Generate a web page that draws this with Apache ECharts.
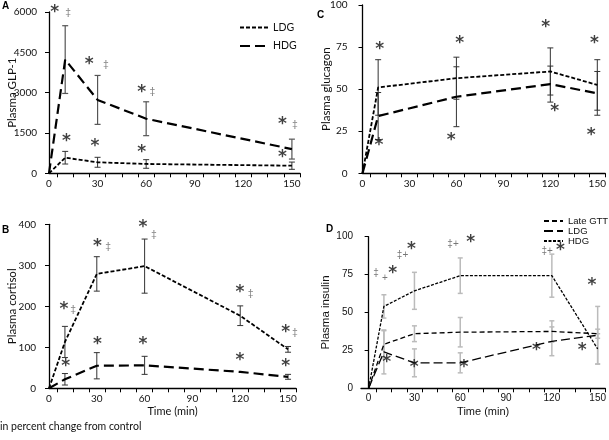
<!DOCTYPE html>
<html><head><meta charset="utf-8">
<script src="https://cdn.jsdelivr.net/npm/echarts@6/dist/echarts.min.js"></script>
<style>html,body{margin:0;padding:0;background:#fff}#c{width:609px;height:440px}</style>
</head><body><div id="c"></div>
<script>
// ---------- Panel A: Plasma GLP-1 ----------
const timeA = [0, 10, 30, 60, 150];
const glpLDG = [0, 580, 410, 347, 283];
const glpLDGerr = [0, 235, 185, 160, 135];
const glpHDG = [0, 4230, 2730, 2030, 900];
const glpHDGerr = [0, 1260, 910, 630, 370];
const annA = [[3.5,5986,'*'],[11.8,6023,'‡'],[24.8,4036,'*'],[35.2,4074,'‡'],[57.3,3004,'*'],[63.9,3067,'‡'],
  [144.2,1800,'*'],[151.8,1837,'‡'],[10.8,1178,'*'],[28.4,991,'*'],[57.3,783,'*'],[144.2,596,'*']];

// ---------- Panel B: Plasma cortisol ----------
const timeB = [0, 10, 30, 60, 120, 150];
const cortLDG = [0, 113, 279, 298, 177, 95];
const cortLDGerr = [0, 38, 42, 66, 24, 7];
const cortHDG = [0, 22, 55, 56, 40, 28];
const cortHDGerr = [0, 14, 32, 22, 0, 6];
const annB = [[9.4,193,'*'],[15.1,193,'‡'],[30.4,345,'*'],[37.1,347,'‡'],[59,393,'*'],[65.8,378,'‡'],
  [119.8,233,'*'],[126.5,234,'‡'],[148.5,136,'*'],[154.3,137,'‡'],
  [10.5,54,'*'],[30.4,107,'*'],[59,107,'*'],[119.8,66.6,'*'],[148.5,52.7,'*']];

// ---------- Panel C: Plasma glucagon ----------
const timeC = [0, 10, 60, 120, 150];
const glucLDG = [0, 51, 56.5, 60.5, 52.5];
const glucLDGerr = [0, 16.5, 12.5, 14, 15];
const glucHDG = [0, 34, 45.5, 53, 47.5];
const glucHDGerr = [0, 14, 17.8, 10.7, 13];
const annC = [[11,73.5,'*'],[10.5,16.3,'*'],[62.1,76.8,'*'],[56.6,19.7,'*'],[117.1,86.3,'*'],[122.8,36.4,'*'],
  [148.2,76.8,'*'],[146.1,22.6,'*']];

// ---------- Panel D: Plasma insulin ----------
const timeD = [0, 10, 30, 60, 120, 150];
const insLate = [0, 29, 36, 37, 37.5, 36];
const insLateErr = [0, 9, 5.2, 9.7, 7, 3];
const insLDG = [0, 24, 16.8, 16.8, 31, 35];
const insLDGerr = [0, 14.5, 9.2, 6.6, 9.5, 19];
const insHDG = [0, 54, 64.3, 74.3, 74.3, 26];
const insHDGerr = [0, 7.7, 12.2, 11.7, 14.2, 10];
const annD = [[4.8,75.9,'‡'],[10.6,72.6,'+'],[15.7,75.9,'*'],[22.2,87.5,'‡+'],[28.1,91.7,'*'],[55.3,95,'‡+'],
  [66.8,96.3,'*'],[116.9,90.6,'‡+'],[125.6,90.6,'*'],[146.3,67.5,'*'],
  [11.9,16.9,'*'],[29.8,13.6,'*'],[62.4,13.6,'*'],[109.9,24.6,'*'],[139.8,24.6,'*']];

const xLabels = [0, 30, 60, 90, 120, 150];
const xTicks = [5, 15, 25, 35, 45, 55, 65, 75, 85, 95, 105, 115, 125, 135, 145, 155];

const FA = 'Lato', FD = 'Liberation Sans';

function pts(t, v){ return t.map((x,i)=>[x, v[i]]); }
function errData(t, v, e){ return t.map((x,i)=>[x, v[i]-e[i], v[i]+e[i]]).filter(d=>d[2]>d[1]); }
function errRender(capW, color, lw){
  return function(params, api){
    const x = api.value(0), lo = api.value(1), hi = api.value(2);
    const p1 = api.coord([x, hi]), p2 = api.coord([x, lo]);
    const st = {stroke: color, lineWidth: lw};
    return {type:'group', children:[
      {type:'line', shape:{x1:p1[0], y1:p1[1], x2:p2[0], y2:p2[1]}, style:st},
      {type:'line', shape:{x1:p1[0]-capW, y1:p1[1], x2:p1[0]+capW, y2:p1[1]}, style:st},
      {type:'line', shape:{x1:p2[0]-capW, y1:p2[1], x2:p2[0]+capW, y2:p2[1]}, style:st}
    ]};
  };
}
function errSeries(idx, t, v, e, capW, color, lw){
  return {type:'custom', xAxisIndex:idx, yAxisIndex:idx, silent:true, z:1,
    data: errData(t, v, e), encode:{x:0, y:[1,2]}, renderItem: errRender(capW, color, lw)};
}
function lineSeries(idx, name, t, v, dash, w){
  return {type:'line', name, xAxisIndex:idx, yAxisIndex:idx, data: pts(t, v),
    symbol:'circle', showSymbol:false, z:3,
    lineStyle:{color:'#000', width:w, type:dash}, itemStyle:{color:'rgba(0,0,0,0)'}};
}
function annSeries(idx, arr, font){
  return {type:'scatter', xAxisIndex:idx, yAxisIndex:idx, silent:true, z:4, symbolSize:1, clip:false,
    itemStyle:{color:'rgba(0,0,0,0)'}, data: arr,
    label:{show:true, position:'inside', formatter: p => p.data[2],
      color:'#111', fontFamily:font, fontSize:10},
    labelLayout:{hideOverlap:false}};
}
function annStyled(idx, arr, font){
  const stars = arr.filter(a=>a[2]==='*');
  const others = arr.filter(a=>a[2]!=='*');
  const s1 = annSeries(idx, stars, 'DejaVu Sans');
  s1.label.fontSize = 17; s1.label.fontWeight = 'bold'; s1.label.offset = [0, 3.5];
  const s2 = annSeries(idx, others, font);
  s2.label.fontSize = 10; s2.label.color = '#555';
  return [s1, s2];
}

function xAxis(idx, min, font, name){
  return {type:'value', gridIndex:idx, min, max:155,
    name: name || '', nameLocation:'middle', nameGap:18, nameMoveOverlap:false,
    nameTextStyle:{fontFamily:font, fontSize:11, color:'#111'},
    axisLine:{onZero:false, lineStyle:{color:'#000', width:1.3}},
    axisTick:{show:true, customValues:xTicks, length:4, lineStyle:{color:'#000'}},
    axisLabel:{customValues:xLabels, fontFamily:font, fontSize:10, color:'#111', margin:5},
    splitLine:{show:false}};
}
function yAxis(idx, max, interval, font, name, margin, gap){
  return {type:'value', gridIndex:idx, min:0, max, interval,
    name, nameLocation:'middle', nameGap:gap, nameMoveOverlap:false,
    nameTextStyle:{fontFamily:font, fontSize:11.5, color:'#111'},
    axisLine:{show:true, lineStyle:{color:'#000', width:1.3}},
    axisTick:{show:true, length:4, lineStyle:{color:'#000'}},
    axisLabel:{fontFamily:font, fontSize:10, color:'#111', margin, formatter: v => String(v)},
    splitLine:{show:false}};
}

const option = {
  animation:false,
  backgroundColor:'#fff',
  grid:[
    {left:49, top:12, width:251, height:161.3},
    {left:49, top:224.3, width:247, height:164},
    {left:362.5, top:4.1, width:246, height:169.2},
    {left:361, top:236.7, width:245, height:151.6}
  ],
  xAxis:[
    xAxis(0, 0, FA),
    xAxis(1, 0, FA, 'Time (min)'),
    xAxis(2, 0, FA),
    xAxis(3, -5, FD, 'Time (min)')
  ],
  yAxis:[
    yAxis(0, 6000, 1500, FA, 'Plasma GLP-1', 12, 31),
    yAxis(1, 400, 100, FA, 'Plasma cortisol', 13, 31),
    yAxis(2, 100, 25, FA, 'Plasma glucagon', 15, 30),
    yAxis(3, 100, 25, FD, 'Plasma insulin', 8, 29)
  ],
  legend:[
    {data:['A-LDG','A-HDG'], orient:'vertical', left:234, top:17, itemWidth:28, itemHeight:10, itemGap:7.4,
      itemStyle:{opacity:0}, formatter: n => n.slice(2),
      textStyle:{fontFamily:FA, fontSize:10.5, color:'#111'}, selectedMode:false},
    {data:['D-Late GTT','D-LDG','D-HDG'], orient:'vertical', left:538, top:211, itemWidth:19, itemHeight:8, itemGap:0,
      itemStyle:{opacity:0}, formatter: n => n.slice(2),
      textStyle:{fontFamily:FD, fontSize:9.5, color:'#111'}, selectedMode:false}
  ],
  graphic:[
    {type:'text', left:2, top:1, style:{text:'A', font:'bold 10px "Liberation Sans"', fill:'#000'}},
    {type:'text', left:2, top:225, style:{text:'B', font:'bold 10px "Liberation Sans"', fill:'#000'}},
    {type:'text', left:317, top:10, style:{text:'C', font:'bold 10px "Liberation Sans"', fill:'#000'}},
    {type:'text', left:326, top:224, style:{text:'D', font:'bold 10px "Liberation Sans"', fill:'#000'}},
    {type:'text', left:0, top:421, style:{text:'in percent change from control', font:'10.5px Lato', fill:'#111'}}
  ],
  series:[
    errSeries(0, timeA, glpLDG, glpLDGerr, 3, '#333', 1),
    errSeries(0, timeA, glpHDG, glpHDGerr, 3, '#555', 1.2),
    lineSeries(0, 'A-LDG', timeA, glpLDG, [4,2], 1.8),
    lineSeries(0, 'A-HDG', timeA, glpHDG, [10,5], 2.2),
    ...annStyled(0, annA, FA),
    errSeries(1, timeB, cortLDG, cortLDGerr, 3, '#333', 1),
    errSeries(1, timeB, cortHDG, cortHDGerr, 3, '#333', 1),
    lineSeries(1, 'B-LDG', timeB, cortLDG, [4,2], 1.8),
    lineSeries(1, 'B-HDG', timeB, cortHDG, [10,5], 2.2),
    ...annStyled(1, annB, FA),
    errSeries(2, timeC, glucLDG, glucLDGerr, 3, '#333', 1),
    errSeries(2, timeC, glucHDG, glucHDGerr, 3, '#333', 1),
    lineSeries(2, 'C-LDG', timeC, glucLDG, [4,2], 1.8),
    lineSeries(2, 'C-HDG', timeC, glucHDG, [10,5], 2.2),
    ...annStyled(2, annC, FA),
    errSeries(3, timeD, insLate, insLateErr, 2.5, '#bbb', 1.5),
    errSeries(3, timeD, insLDG, insLDGerr, 2.5, '#bbb', 1.5),
    errSeries(3, timeD, insHDG, insHDGerr, 2.5, '#bbb', 1.5),
    lineSeries(3, 'D-Late GTT', timeD, insLate, [5,3], 1.3),
    lineSeries(3, 'D-LDG', timeD, insLDG, [9,4], 1.3),
    lineSeries(3, 'D-HDG', timeD, insHDG, [3,1.5], 1.3),
    ...annStyled(3, annD, FD)
  ]
};
const chart = echarts.init(document.getElementById('c'), null, {renderer:'canvas'});
chart.setOption(option);
</script></body></html>
